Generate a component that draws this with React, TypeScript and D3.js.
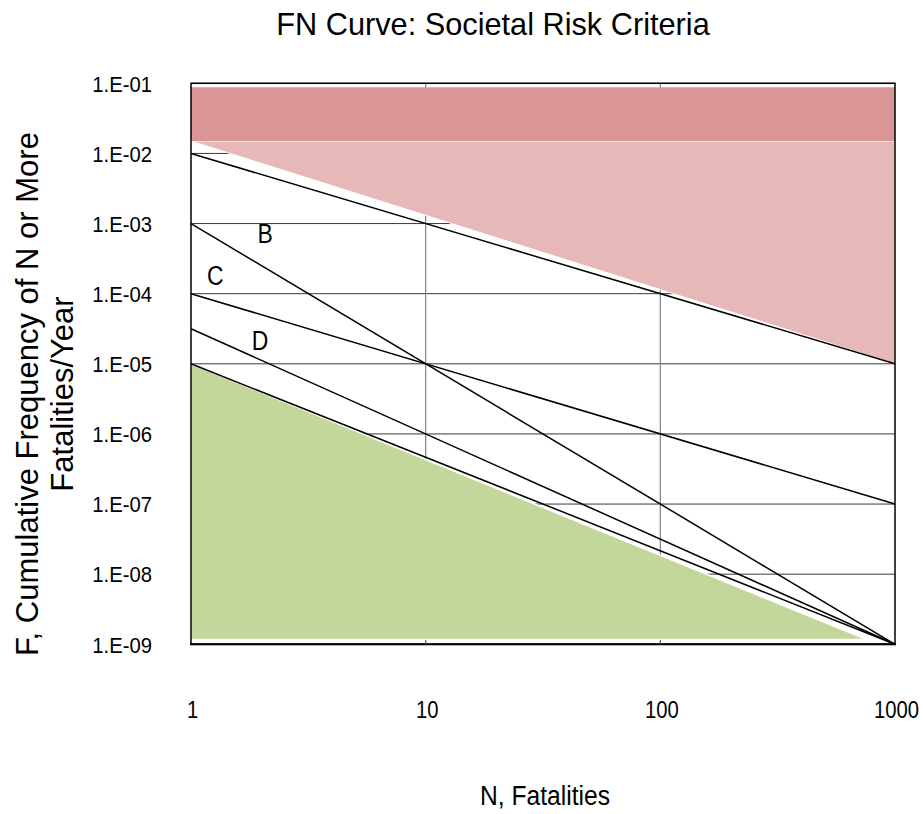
import React from "react";
import * as d3 from "d3";

const W = 923;
const H = 814;

const xDomain = [1, 1000];
const yDomain = [1e-9, 1e-1];
const xTicks = [1, 10, 100, 1000];
const xTickLabels = ["1", "10", "100", "1000"];
const yTicks = [1e-1, 1e-2, 1e-3, 1e-4, 1e-5, 1e-6, 1e-7, 1e-8, 1e-9];
const yTickLabels = ["1.E-01", "1.E-02", "1.E-03", "1.E-04", "1.E-05", "1.E-06", "1.E-07", "1.E-08", "1.E-09"];

// shaded regions
const intolerableN = [1, 1000, 1000, 1];
const intolerableF = [0.088, 0.088, 0.015, 0.015];
const tolerableN = [1, 1000, 1000];
const tolerableF = [0.015, 0.015, 1e-5];
const acceptableN = [1, 757, 1];
const acceptableF = [1e-5, 1.17e-9, 1.17e-9];

// criterion lines
const lineNames = ["A", "B", "C", "D", "E"];
const lineN = [1, 1000];
const lineStartF = [1e-2, 1e-3, 1e-4, 3.16e-5, 1e-5];
const lineEndF = [1e-5, 1e-9, 1e-7, 1e-9, 1e-9];

// line labels
const labelText = ["B", "C", "D"];
const labelN = [2.07, 1.27, 1.97];
const labelF = [5.3e-4, 1.34e-4, 1.58e-5];

const FONT = "'Liberation Sans', Arial, sans-serif";

function SText(props: {
  x: number;
  y: number;
  size: number;
  sx: number;
  anchor?: string;
  children: React.ReactNode;
}) {
  const { x, y, size, sx, anchor, children } = props;
  return (
    <text
      transform={`translate(${x},${y}) scale(${sx},1)`}
      textAnchor={anchor || "middle"}
      fontSize={size}
      fill="#000"
    >
      {children}
    </text>
  );
}

export default function App() {
  const left = 191, right = 895, top = 83.3, bottom = 644.3;
  const x = d3.scaleLog().domain(xDomain).range([left, right]);
  const y = d3.scaleLog().domain(yDomain).range([bottom, top]);

  const poly = (ns: number[], fs: number[]) =>
    d3.line<number>().x((d, i) => x(ns[i])).y((d, i) => y(fs[i]))(ns.map((_, i) => i)) + "Z";

  return (
    <div style={{ position: "absolute", left: 0, top: 0 }}>
      <svg width={W} height={H} style={{ display: "block", background: "#fff" }} fontFamily={FONT}>
        <rect x={0} y={0} width={W} height={H} fill="#fff" />
        <SText x={493} y={35} size={32} sx={0.96}>
          FN Curve: Societal Risk Criteria
        </SText>

        {/* gridlines */}
        {yTicks.map((t, i) => (
          <line key={"hg" + i} x1={left} x2={right} y1={y(t)} y2={y(t)} stroke="#3a3a3a" strokeWidth={1} />
        ))}
        {xTicks.slice(1, 3).map((t, i) => (
          <line key={"vg" + i} x1={x(t)} x2={x(t)} y1={top} y2={bottom} stroke="#808080" strokeWidth={1.2} />
        ))}

        {/* regions */}
        <path d={poly(tolerableN, tolerableF)} fill="#E6B9B8" stroke="#fff" strokeWidth={1} />
        <path d={poly(intolerableN, intolerableF)} fill="#D99694" />
        <path d={poly(acceptableN, acceptableF)} fill="#C4D79B" stroke="#fff" strokeWidth={1.5} />

        {/* criterion lines */}
        {lineNames.map((nm, i) => (
          <line
            key={"l" + nm}
            x1={x(lineN[0])}
            y1={y(lineStartF[i])}
            x2={x(lineN[1])}
            y2={y(lineEndF[i])}
            stroke="#000"
            strokeWidth={1.5}
          />
        ))}

        {/* border */}
        <rect x={left} y={top} width={right - left} height={bottom - top} fill="none" stroke="#000" strokeWidth={1.5} />
        <line x1={left - 1} x2={right + 1} y1={bottom} y2={bottom} stroke="#000" strokeWidth={2} />
        {xTicks.slice(1, 3).map((t, i) => (
          <line key={"xt" + i} x1={x(t)} x2={x(t)} y1={bottom} y2={bottom - 4} stroke="#555" strokeWidth={1} />
        ))}

        {/* labels */}
        {labelText.map((t, i) => (
          <SText key={"lb" + t} x={x(labelN[i])} y={y(labelF[i])} size={27} sx={0.85}>
            {t}
          </SText>
        ))}

        {/* y tick labels */}
        {yTicks.map((t, i) => (
          <SText key={"yl" + i} x={152} y={y(t) + 8.2} size={22.5} sx={0.9} anchor="end">
            {yTickLabels[i]}
          </SText>
        ))}
        {/* x tick labels */}
        {xTicks.map((t, i) => (
          <SText key={"xl" + i} x={x(t) + 1.5} y={718} size={23} sx={0.88}>
            {xTickLabels[i]}
          </SText>
        ))}

        {/* axis titles */}
        <SText x={545} y={805} size={28} sx={0.88}>
          N, Fatalities
        </SText>
        <g transform="translate(38,394) rotate(-90)">
          <text x={0} y={0} textAnchor="middle" fontSize={31} fill="#000">
            F, Cumulative Frequency of N or More
          </text>
          <text x={0} y={35} textAnchor="middle" fontSize={31} fill="#000">
            Fatalities/Year
          </text>
        </g>
      </svg>
    </div>
  );
}
